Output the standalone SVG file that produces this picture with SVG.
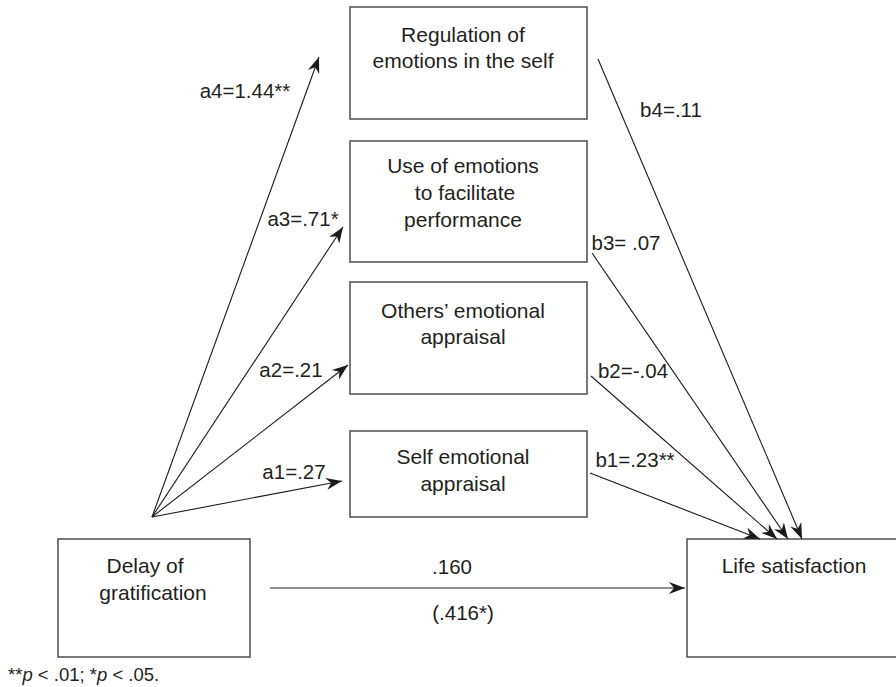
<svg xmlns="http://www.w3.org/2000/svg" width="896" height="687" viewBox="0 0 896 687">
<style>
  .box { fill: #ffffff; stroke: #4d4d4d; stroke-width: 1.5; }
  .t { font-family: "Liberation Sans", Arial, sans-serif; font-size: 21px; fill: #231f20; text-anchor: middle; }
  .lbl { font-family: "Liberation Sans", Arial, sans-serif; font-size: 20.5px; fill: #231f20; text-anchor: middle; }
  .note { font-family: "Liberation Sans", Arial, sans-serif; font-size: 18.5px; fill: #231f20; }
  .edge { stroke: #1a1a1a; stroke-width: 1.1; fill: none; marker-end: url(#arr); }
</style>
<defs>
  <marker id="arr" viewBox="-17 -7 18 14" refX="0" refY="0" markerWidth="18" markerHeight="14" markerUnits="userSpaceOnUse" orient="auto">
    <path d="M0,0 L-16,-6 L-11,0 L-16,6 Z" fill="#1a1a1a"/>
  </marker>
</defs>
<rect width="896" height="687" fill="#ffffff"/>

<g id="node-regulation">
  <rect class="box" x="350" y="7" width="237" height="112"/>
  <text class="t" x="463" y="42">Regulation of</text>
  <text class="t" x="463" y="68">emotions in the self</text>
</g>
<g id="node-use">
  <rect class="box" x="350" y="141" width="237" height="121"/>
  <text class="t" x="463" y="173">Use of emotions</text>
  <text class="t" x="465" y="200">to facilitate</text>
  <text class="t" x="463" y="227">performance</text>
</g>
<g id="node-others">
  <rect class="box" x="350" y="282" width="237" height="112"/>
  <text class="t" x="463" y="318">Others’ emotional</text>
  <text class="t" x="463" y="344">appraisal</text>
</g>
<g id="node-self">
  <rect class="box" x="350" y="431" width="237" height="86"/>
  <text class="t" x="463" y="464">Self emotional</text>
  <text class="t" x="463" y="491">appraisal</text>
</g>
<g id="node-delay">
  <rect class="box" x="58" y="539" width="192" height="118"/>
  <text class="t" x="145" y="573">Delay of</text>
  <text class="t" x="153" y="600">gratification</text>
</g>
<g id="node-life">
  <rect class="box" x="687" y="539" width="220" height="118"/>
  <text class="t" x="794" y="573">Life satisfaction</text>
</g>

<g id="connectors">
  <path class="edge" d="M152,517 L319,57"/>
  <path class="edge" d="M152,517 L343,227"/>
  <path class="edge" d="M152,517 L348,365"/>
  <path class="edge" d="M152,517 L342,481"/>
  <path class="edge" d="M598,59 L802,539"/>
  <path class="edge" d="M592,253 L788,539"/>
  <path class="edge" d="M591,376 L777,539"/>
  <path class="edge" d="M590,473 L760,539"/>
  <path class="edge" d="M270,588 L685,588"/>
</g>

<g id="labels">
  <text class="lbl" x="245" y="98">a4=1.44**</text>
  <text class="lbl" x="303" y="226">a3=.71*</text>
  <text class="lbl" x="291" y="377">a2=.21</text>
  <text class="lbl" x="294" y="479">a1=.27</text>
  <text class="lbl" x="671" y="117">b4=.11</text>
  <text class="lbl" x="626" y="250">b3= .07</text>
  <text class="lbl" x="633" y="378">b2=-.04</text>
  <text class="lbl" x="635" y="467">b1=.23**</text>
  <text class="lbl" x="452" y="574">.160</text>
  <text class="lbl" x="463" y="620">(.416*)</text>
</g>

<text class="note" x="8" y="681">**<tspan font-style="italic">p</tspan> &lt; .01; *<tspan font-style="italic">p</tspan> &lt; .05.</text>
</svg>
